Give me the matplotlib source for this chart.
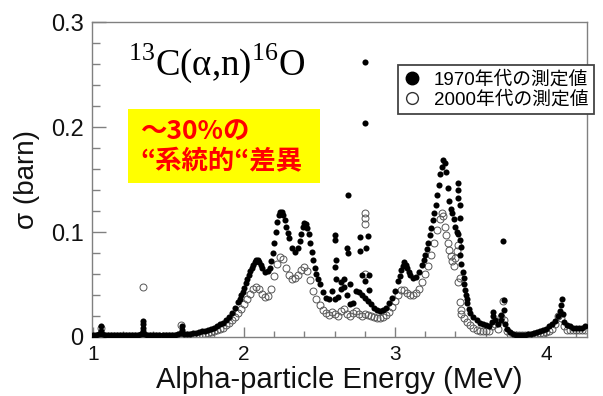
import matplotlib
matplotlib.use("Agg")
import matplotlib.pyplot as plt
from matplotlib.patches import Rectangle
from matplotlib.lines import Line2D
from matplotlib.ticker import MultipleLocator

plt.rcParams['font.family'] = ['Liberation Sans', 'Noto Sans CJK JP', 'DejaVu Sans']
plt.rcParams['mathtext.fontset'] = 'custom'
plt.rcParams['mathtext.rm'] = 'Liberation Serif'

# 1970s data (filled), main curve
e_70 = [1.00, 1.02, 1.04, 1.05, 1.05, 1.06, 1.08, 1.10, 1.12, 1.14, 1.16, 1.18, 1.20,
        1.22, 1.24, 1.26, 1.28, 1.30, 1.32, 1.33, 1.33, 1.33, 1.33, 1.34, 1.36, 1.38,
        1.40, 1.42, 1.44, 1.46, 1.48, 1.50, 1.52, 1.54, 1.56, 1.58, 1.59, 1.59, 1.60,
        1.62, 1.64, 1.66, 1.68, 1.70, 1.72, 1.74, 1.76, 1.78, 1.80, 1.82, 1.84, 1.86,
        1.88, 1.90, 1.92, 1.94, 1.96, 1.97, 1.98, 1.99, 2.00, 2.01, 2.02, 2.03, 2.04,
        2.05, 2.06, 2.07, 2.08, 2.09, 2.10, 2.11, 2.12, 2.14, 2.16, 2.17, 2.18, 2.19,
        2.20, 2.21, 2.22, 2.23, 2.24, 2.25, 2.26, 2.27, 2.28, 2.29, 2.30, 2.32, 2.34,
        2.36, 2.37, 2.38, 2.39, 2.40, 2.41, 2.42, 2.43, 2.44, 2.45, 2.46, 2.47, 2.48,
        2.49, 2.50, 2.52, 2.54, 2.56, 2.58, 2.60, 2.62, 2.64, 2.66, 2.68, 2.70, 2.72,
        2.74, 2.76, 2.78, 2.80, 2.82, 2.84, 2.86, 2.88, 2.90, 2.92, 2.94, 2.96, 2.98,
        3.00, 3.02, 3.03, 3.04, 3.05, 3.06, 3.07, 3.08, 3.09, 3.10, 3.12, 3.14, 3.16,
        3.18, 3.19, 3.20, 3.21, 3.22, 3.23, 3.24, 3.25, 3.26, 3.27, 3.28, 3.29, 3.30,
        3.31, 3.32, 3.33, 3.34, 3.35, 3.36, 3.37, 3.38, 3.39, 3.40, 3.41, 3.42, 3.42,
        3.42, 3.43, 3.43, 3.42, 3.43, 3.44, 3.43, 3.44, 3.45, 3.455, 3.46, 3.465, 3.47,
        3.475, 3.48, 3.49, 3.50, 3.52, 3.54, 3.56, 3.58, 3.60, 3.62, 3.64, 3.65, 3.65,
        3.66, 3.68, 3.70, 3.70, 3.715, 3.72, 3.72, 3.73, 3.74, 3.76, 3.78, 3.80, 3.82,
        3.84, 3.86, 3.88, 3.90, 3.92, 3.94, 3.96, 3.98, 4.00, 4.02, 4.04, 4.06, 4.08,
        4.09, 4.10, 4.105, 4.11, 4.12, 4.14, 4.16, 4.18, 4.20, 4.22, 4.24, 4.26]
s_70 = [.002, .002, .003, .006, .010, .003, .002, .002, .002, .002, .002, .002, .002,
        .002, .002, .002, .002, .002, .003, .006, .009, .012, .015, .003, .002, .002,
        .002, .002, .002, .002, .002, .002, .002, .002, .003, .004, .007, .010, .003,
        .003, .003, .004, .004, .005, .006, .006, .007, .008, .009, .010, .012, .013,
        .016, .019, .023, .028, .033, .036, .040, .043, .047, .051, .055, .059, .063,
        .066, .069, .071, .073, .073, .071, .069, .066, .062, .063, .066, .072, .080,
        .090, .100, .110, .116, .119, .119, .116, .111, .105, .099, .094, .085, .081,
        .085, .091, .098, .105, .109, .108, .104, .098, .090, .081, .073, .066, .060,
        .055, .050, .043, .037, .036, .044, .036, .038, .046, .048, .040, .031, .032,
        .044, .043, .040, .037, .034, .031, .028, .026, .025, .026, .028, .032, .037,
        .044, .053, .058, .064, .068, .071, .069, .066, .062, .059, .056, .057, .062,
        .069, .073, .078, .084, .090, .097, .104, .111, .118, .126, .135, .145, .155,
        .162, .169, .166, .157, .142, .130, .122, .118, .112, .105, .100, .147, .140,
        .132, .126, .113, .098, .092, .086, .078, .070, .062, .056, .050, .045, .040,
        .036, .032, .027, .023, .019, .016, .013, .012, .011, .010, .014, .020, .024,
        .016, .012, .016, .021, .091, .035, .026, .012, .008, .005, .003, .002, .002,
        .002, .002, .003, .003, .004, .005, .006, .007, .008, .010, .012, .015, .020,
        .025, .030, .036, .022, .014, .011, .010, .009, .009, .009, .009, .010]

# 1970s scattered points between 2.6 and 2.85 MeV
e_70_extra = [2.60, 2.60, 2.61, 2.60, 2.61, 2.68, 2.69, 2.687, 2.77, 2.82, 2.77, 2.81,
              2.78, 2.83, 2.80, 2.83, 2.80, 2.80, 2.64, 2.66, 2.70]
s_70_extra = [.097, .092, .073, .067, .055, .085, .080, .135, .095, .096, .082, .085,
              .059, .059, .053, .045, .262, .204, .052, .055, .050]

# 2000s data (open)
e_00 = [1.00, 1.02, 1.04, 1.05, 1.06, 1.08, 1.10, 1.12, 1.14, 1.16, 1.18, 1.20, 1.22,
        1.24, 1.26, 1.28, 1.30, 1.32, 1.33, 1.34, 1.36, 1.38, 1.40, 1.42, 1.44, 1.46,
        1.48, 1.50, 1.52, 1.54, 1.56, 1.585, 1.60, 1.62, 1.64, 1.66, 1.68, 1.70, 1.72,
        1.74, 1.76, 1.78, 1.80, 1.82, 1.84, 1.86, 1.88, 1.90, 1.92, 1.94, 1.96, 1.98,
        2.00, 2.02, 2.04, 2.06, 2.08, 2.10, 2.12, 2.14, 2.16, 2.18, 2.20, 2.22, 2.24,
        2.26, 2.28, 2.30, 2.32, 2.34, 2.36, 2.38, 2.40, 2.42, 2.44, 2.46, 2.48, 2.50,
        2.52, 2.54, 2.56, 2.58, 2.60, 2.62, 2.64, 2.66, 2.68, 2.70, 2.72, 2.74, 2.76,
        2.78, 2.80, 2.80, 2.80, 2.80, 2.80, 2.82, 2.84, 2.86, 2.88, 2.90, 2.92, 2.94,
        2.96, 2.98, 3.00, 3.02, 3.04, 3.06, 3.08, 3.10, 3.12, 3.14, 3.16, 3.18, 3.20,
        3.22, 3.24, 3.26, 3.28, 3.30, 3.31, 3.32, 3.33, 3.34, 3.35, 3.36, 3.37, 3.38,
        3.39, 3.40, 3.41, 3.42, 3.43, 3.42, 3.43, 3.44, 3.44, 3.46, 3.48, 3.50, 3.52,
        3.54, 3.56, 3.58, 3.60, 3.62, 3.64, 3.66, 3.68, 3.70, 3.715, 3.72, 3.74, 3.76,
        3.78, 3.80, 3.82, 3.84, 3.86, 3.88, 3.90, 3.92, 3.94, 3.96, 3.98, 4.00, 4.02,
        4.04, 4.06, 4.08, 4.10, 4.12, 4.14, 4.16, 4.18, 4.20, 4.22, 4.24, 4.26]
s_00 = [.001, .001, .002, .009, .002, .001, .001, .001, .001, .001, .001, .001, .001,
        .001, .001, .001, .001, .002, .048, .002, .001, .001, .001, .001, .001, .001,
        .001, .001, .001, .001, .002, .011, .002, .002, .002, .002, .002, .002, .003,
        .003, .004, .005, .006, .007, .008, .009, .011, .013, .016, .019, .023, .027,
        .031, .036, .041, .046, .048, .046, .041, .038, .039, .046, .058, .070, .076,
        .074, .066, .059, .055, .056, .059, .064, .067, .063, .054, .044, .036, .030,
        .026, .023, .021, .024, .022, .020, .025, .027, .022, .020, .023, .025, .022,
        .020, .118, .113, .108, .060, .022, .021, .020, .019, .018, .018, .019, .021,
        .024, .029, .034, .040, .045, .045, .042, .040, .040, .042, .046, .052, .060,
        .068, .078, .090, .102, .112, .118, .115, .105, .097, .090, .083, .077, .072,
        .068, .075, .082, .088, .056, .052, .033, .026, .022, .018, .014, .011, .009,
        .007, .006, .006, .006, .006, .010, .012, .008, .019, .034, .016, .006, .003,
        .002, .002, .002, .002, .002, .002, .002, .003, .003, .004, .004, .005, .006,
        .008, .012, .020, .018, .010, .007, .007, .007, .007, .007, .007, .007]

x_ticks = [1, 2, 3, 4]
y_ticks = [0, 0.1, 0.2, 0.3]
y_tick_labels = ['0', '0.1', '0.2', '0.3']
legend_labels = ['1970年代の測定値', '2000年代の測定値']

fig = plt.figure(figsize=(6.03, 3.96), dpi=100)
ax = fig.add_axes([0.1526, 0.149, 0.8209, 0.7954])

ax.plot(e_00, s_00, 'o', ls='none', ms=5.0, mfc='none', mec='#555555', mew=0.7, zorder=2)
ax.plot(e_70, s_70, 'o', ls='none', ms=4.4, color='black', mew=0, zorder=3)
ax.plot(e_70_extra, s_70_extra, 'o', ls='none', ms=4.4, color='black', mew=0, zorder=3)

ax.set_xlim(0.993, 4.272)
ax.set_ylim(0, 0.3)
ax.set_xticks(x_ticks)
ax.set_xticklabels([str(t) for t in x_ticks])
ax.set_yticks(y_ticks)
ax.set_yticklabels(y_tick_labels)
ax.xaxis.set_minor_locator(MultipleLocator(0.2))
ax.yaxis.set_minor_locator(MultipleLocator(0.02))

for sp in ax.spines.values():
    sp.set_color('#808080')
    sp.set_linewidth(1.0)
ax.tick_params(which='both', direction='in', color='#808080', width=1.0)
ax.tick_params(axis='y', which='major', length=10, labelsize=17, pad=6, labelcolor='#111111')
ax.tick_params(axis='y', which='minor', length=5.8)
ax.tick_params(axis='x', which='major', length=7, labelsize=15, pad=6, labelcolor='#111111')
ax.tick_params(axis='x', which='minor', length=4.3)

ax.set_xlabel('Alpha-particle Energy (MeV)', fontsize=21, color='#111111', labelpad=1)
ax.set_ylabel('σ (barn)', fontsize=20, color='#111111', labelpad=8)

# reaction label
ax.text(0.073, 0.832, r'$^{13}$C(α,n)$^{16}$O', family='Liberation Serif', fontsize=26.5,
        transform=ax.transAxes, va='baseline', ha='left')

# yellow note box
ax.add_patch(Rectangle((0.0727, 0.489), 0.388, 0.235, transform=ax.transAxes,
                       facecolor='#ffff00', edgecolor='none', zorder=4))
ax.text(0.097, 0.651, '～30%の', family=['Noto Sans CJK JP'], fontweight='bold',
        fontsize=19, color='#ff0000', transform=ax.transAxes, va='center', zorder=5)
ax.text(0.097, 0.556, '“系統的“差異', family=['Noto Sans CJK JP'], fontweight='bold',
        fontsize=19, color='#ff0000', transform=ax.transAxes, va='center', zorder=5)

handles = [Line2D([], [], marker='o', ls='none', ms=9, color='black'),
           Line2D([], [], marker='o', ls='none', ms=8.5, mfc='white', mec='#333333', mew=1.0)]
leg = fig.legend(handles, legend_labels, loc='upper left', bbox_to_anchor=(0.660, 0.836),
                 fontsize=13.5, frameon=True, fancybox=False, edgecolor='#444444',
                 borderpad=0.3, labelspacing=0.15, handlelength=0.9, handletextpad=0.7,
                 borderaxespad=0, framealpha=1)
leg.get_frame().set_linewidth(1.3)

fig.savefig('out.png', dpi=100)
